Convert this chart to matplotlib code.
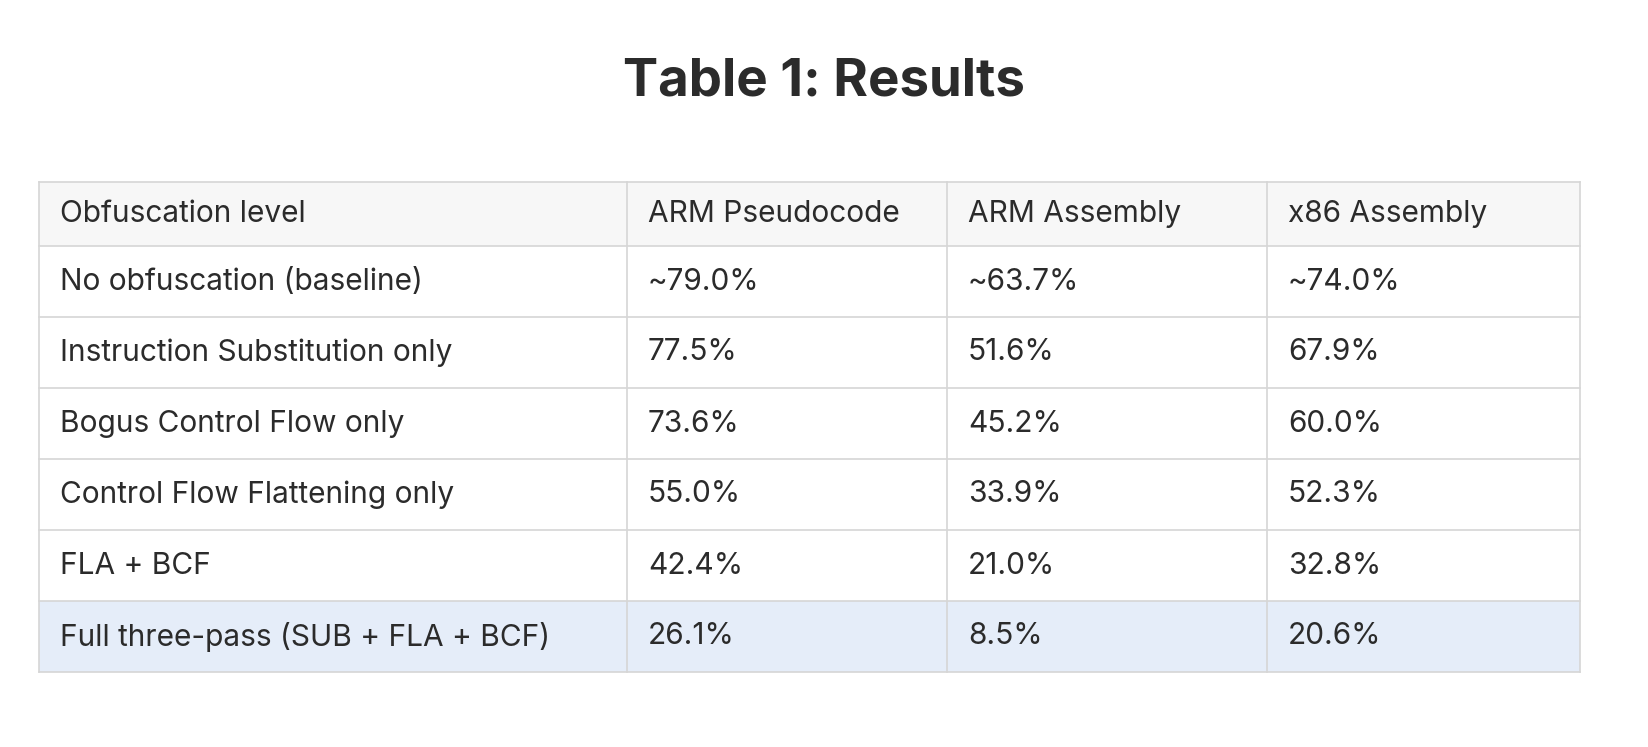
import matplotlib
matplotlib.use("Agg")
import matplotlib.pyplot as plt
import matplotlib.patches as patches

plt.rcParams['font.family'] = ['Inter', 'DejaVu Sans']

title = "Table 1: Results"
columns = ["Obfuscation level", "ARM Pseudocode", "ARM Assembly", "x86 Assembly"]
levels = ["No obfuscation (baseline)", "Instruction Substitution only",
          "Bogus Control Flow only", "Control Flow Flattening only",
          "FLA + BCF", "Full three-pass (SUB + FLA + BCF)"]
arm_pseudo = ["~79.0%", "77.5%", "73.6%", "55.0%", "42.4%", "26.1%"]
arm_asm = ["~63.7%", "51.6%", "45.2%", "33.9%", "21.0%", "8.5%"]
x86_asm = ["~74.0%", "67.9%", "60.0%", "52.3%", "32.8%", "20.6%"]

W, H = 1648, 747
fig = plt.figure(figsize=(W / 100, H / 100), dpi=100)
ax = fig.add_axes([0, 0, 1, 1])
ax.set_xlim(0, W)
ax.set_ylim(H, 0)
ax.axis('off')

col_x = [39, 627, 947, 1267, 1580]
row_y = [182, 246, 317, 388, 459, 530, 601, 672]
line_c = '#d6d6d6'
text_c = '#2b2b2b'

ax.text(W / 2, 82, title, ha='center', va='center', fontsize=38,
        fontweight='bold', color=text_c)

rows = [columns] + [list(r) for r in zip(levels, arm_pseudo, arm_asm, x86_asm)]
for i, row in enumerate(rows):
    y0, y1 = row_y[i], row_y[i + 1]
    if i == 0:
        bg = '#f7f7f7'
    elif i == len(rows) - 1:
        bg = '#e5edf9'
    else:
        bg = 'white'
    ax.add_patch(patches.Rectangle((col_x[0], y0), col_x[-1] - col_x[0], y1 - y0,
                                   facecolor=bg, edgecolor='none'))
    for j, txt in enumerate(row):
        ax.text(col_x[j] + 21, (y0 + y1) / 2, txt, ha='left', va='center',
                fontsize=21.5, color=text_c)

for y in row_y:
    ax.plot([col_x[0], col_x[-1]], [y, y], color=line_c, lw=1.2)
for x in col_x:
    ax.plot([x, x], [row_y[0], row_y[-1]], color=line_c, lw=1.2)

fig.savefig("out.png", dpi=100, facecolor='white')
